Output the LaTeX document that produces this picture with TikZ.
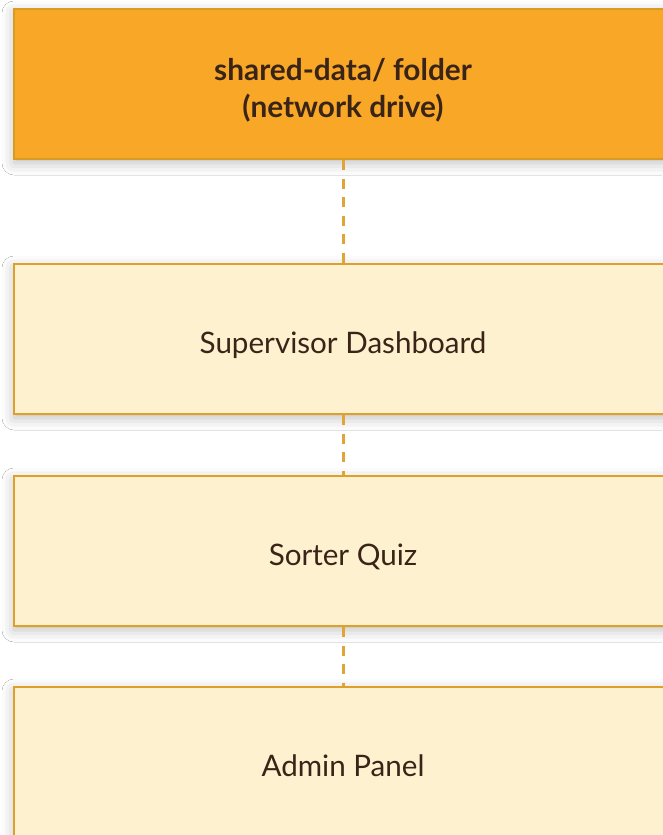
\documentclass[tikz,border=0pt]{standalone}
\usepackage{fontspec}
\setmainfont{Lato}
\usetikzlibrary{shadows.blur}
\definecolor{topfill}{HTML}{F8A826}
\definecolor{topedge}{HTML}{D89C25}
\definecolor{boxfill}{HTML}{FEF1CF}
\definecolor{boxedge}{HTML}{DFA02A}
\definecolor{txt}{HTML}{3A2418}
\definecolor{link}{HTML}{E0A437}
\tikzset{
  panel/.style={rectangle, minimum width=658pt, minimum height=150pt, line width=2.8pt,
    text=txt, align=center, inner sep=0pt,
    blur shadow={shadow xshift=0pt, shadow yshift=-4pt, shadow blur radius=12pt,
      shadow blur extra rounding=0pt, shadow opacity=26}},
  toppanel/.style={panel, draw=topedge, fill=topfill, text depth=0pt,
    font=\fontsize{29.8}{37}\selectfont\bfseries},
  lightpanel/.style={panel, draw=boxedge, fill=boxfill, text height=29pt, text depth=0pt,
    font=\fontsize{29.6}{34}\selectfont},
  dashlink/.style={draw=link, line width=3pt, dash pattern=on 10pt off 8.5pt}
}
\begin{document}
\begin{tikzpicture}[x=1pt,y=-1pt]
\useasboundingbox (0,0) rectangle (662,835);
\fill[white] (0,0) rectangle (662,835);
\node[toppanel] (shared) at (343,84) {\rule{0pt}{29pt}shared-data/ folder\\(network drive)};
\node[lightpanel] (dash) at (343,339) {Supervisor Dashboard};
\node[lightpanel] (quiz) at (343,551) {Sorter Quiz};
\node[lightpanel] (admin) at (343,762) {Admin Panel};
\draw[dashlink] (shared.south) -- (dash.north);
\draw[dashlink] (dash.south) -- (quiz.north);
\draw[dashlink] (quiz.south) -- (admin.north);
\end{tikzpicture}
\end{document}
